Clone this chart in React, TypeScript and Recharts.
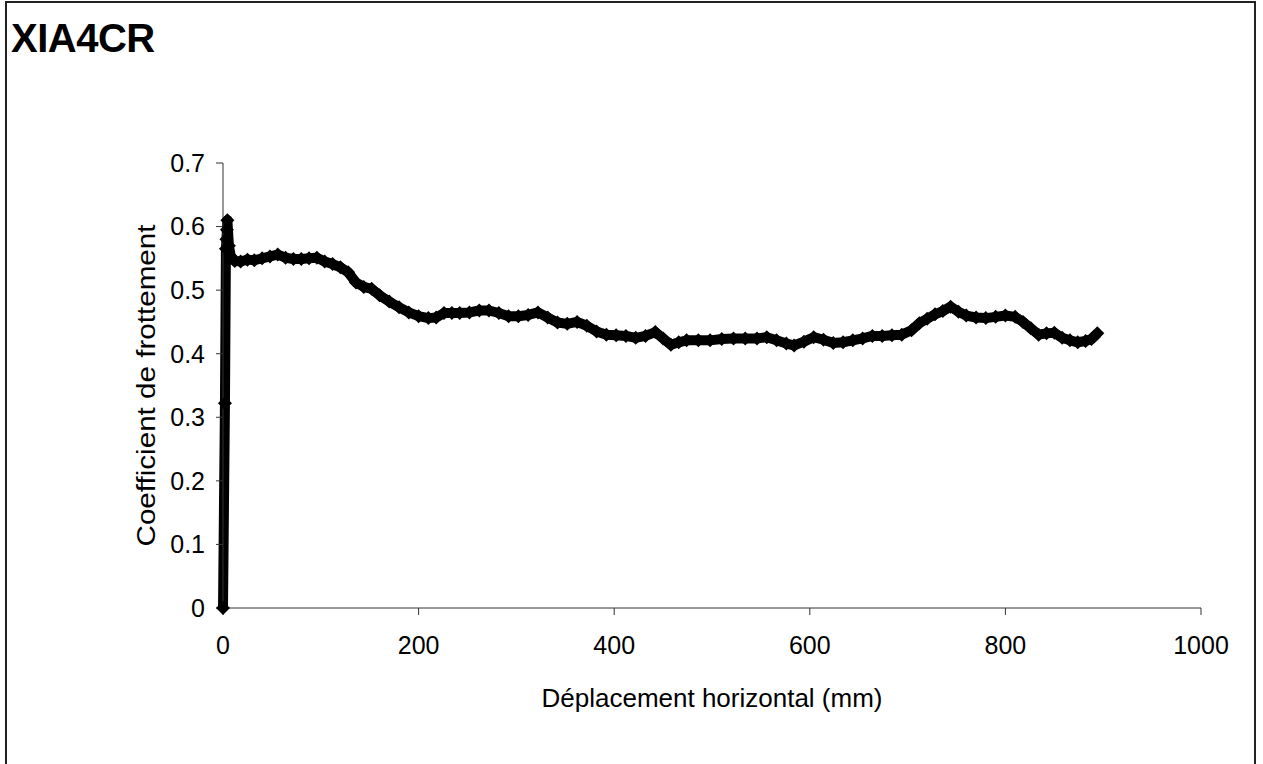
import { LineChart, Line, XAxis, YAxis } from "recharts"

// déplacement horizontal (mm)
const DISP = [
  0, 2, 3, 3.5, 4, 4.5, 6, 8, 12, 18, 25, 32, 40, 48, 56, 64, 72, 80, 88, 96,
  104, 112, 120, 128, 136, 144, 152, 160, 170, 180, 190, 200, 210, 218, 226, 234, 242, 252, 262, 272,
  282, 292, 302, 312, 322, 332, 342, 352, 362, 372, 382, 392, 402, 412, 422, 432, 442, 450, 458, 466,
  474, 486, 498, 510, 522, 534, 546, 556, 566, 576, 584, 594, 604, 614, 624, 634, 644, 654, 664, 674,
  684, 694, 704, 712, 720, 728, 736, 744, 752, 760, 770, 780, 790, 800, 810, 818, 826, 834, 842, 850,
  858, 866, 874, 882, 888, 894,
]

// coefficient de frottement
const COEF = [
  0, 0.322, 0.565, 0.58, 0.595, 0.61, 0.57, 0.553, 0.546, 0.545, 0.548, 0.547, 0.55, 0.553, 0.556, 0.551, 0.549, 0.549, 0.55, 0.551,
  0.545, 0.541, 0.536, 0.528, 0.512, 0.505, 0.502, 0.492, 0.482, 0.473, 0.465, 0.459, 0.456, 0.457, 0.464, 0.464, 0.464, 0.465, 0.468, 0.468,
  0.464, 0.459, 0.459, 0.461, 0.465, 0.457, 0.449, 0.447, 0.45, 0.444, 0.435, 0.43, 0.429, 0.428, 0.425, 0.428, 0.434, 0.424, 0.414, 0.418,
  0.421, 0.421, 0.421, 0.423, 0.424, 0.424, 0.424, 0.426, 0.421, 0.416, 0.413, 0.419, 0.426, 0.422, 0.417, 0.418, 0.421, 0.424, 0.428, 0.428,
  0.429, 0.43, 0.437, 0.448, 0.455, 0.462, 0.467, 0.474, 0.466, 0.46, 0.457, 0.456, 0.458, 0.46, 0.458, 0.45, 0.44, 0.43, 0.432, 0.433,
  0.425, 0.421, 0.418, 0.42, 0.423, 0.432,
]

const X_TICKS = [0, 200, 400, 600, 800, 1000]
const Y_TICKS = [0, 0.1, 0.2, 0.3, 0.4, 0.5, 0.6, 0.7]

const data = DISP.map((d, i) => ({ d, c: COEF[i] }))

const FONT = '"Liberation Sans", Arial, sans-serif'

const Diamond = (props: any) => {
  const { cx, cy, index } = props
  const r = 7
  return (
    <path
      key={`dot-${index}`}
      d={`M${cx},${cy - r} L${cx + r},${cy} L${cx},${cy + r} L${cx - r},${cy} Z`}
      fill="#000"
    />
  )
}

export default function App() {
  return (
    <div style={{ position: "absolute", left: 0, top: 0, width: 1263, height: 764, overflow: "hidden", background: "#fff" }}>
      {/* chart frame */}
      <div
        style={{
          position: "absolute",
          left: 5,
          top: 1,
          width: 1247,
          height: 800,
          border: "2px solid #222",
        }}
      />
      <div
        style={{
          position: "absolute",
          left: 11,
          top: 18,
          fontFamily: FONT,
          fontWeight: "bold",
          fontSize: 40,
          lineHeight: "40px",
          letterSpacing: -0.5,
          color: "#000",
        }}
      >
        XIA4CR
      </div>
      <div style={{ position: "absolute", left: 0, top: 0 }}>
        <LineChart width={1263} height={764} data={data} margin={{ top: 163, right: 62, left: 143, bottom: 76 }}>
          <XAxis
            type="number"
            dataKey="d"
            domain={[0, 1000]}
            ticks={X_TICKS}
            height={80}
            tickSize={7}
            tickMargin={21}
            stroke="#333"
            tick={{ fill: "#000", fontSize: 25, fontFamily: FONT }}
            label={{
              content: ({ viewBox }: any) => (
                <text
                  x={viewBox.x + viewBox.width / 2}
                  y={viewBox.y + viewBox.height + 19}
                  textAnchor="middle"
                  fontSize={26}
                  fontFamily={FONT}
                  fill="#000"
                >
                  Déplacement horizontal (mm)
                </text>
              ),
            }}
          />
          <YAxis
            type="number"
            domain={[0, 0.7]}
            ticks={Y_TICKS}
            width={80}
            tickSize={7}
            tickMargin={11}
            stroke="#333"
            tickFormatter={(v: number) => String(Number(v.toFixed(1)))}
            tick={{ fill: "#000", fontSize: 25, fontFamily: FONT }}
            label={{
              content: ({ viewBox }: any) => {
                const cx = viewBox.x + 3
                const cy = viewBox.y + viewBox.height / 2
                return (
                  <text
                    x={cx}
                    y={cy}
                    transform={`rotate(-90 ${cx} ${cy})`}
                    textAnchor="middle"
                    dominantBaseline="central"
                    fontSize={25}
                    fontFamily={FONT}
                    fill="#000"
                    textLength={322}
                    lengthAdjust="spacingAndGlyphs"
                  >
                    Coefficient de frottement
                  </text>
                )
              },
            }}
          />
          <Line
            type="linear"
            dataKey="c"
            stroke="#000"
            strokeWidth={10}
            strokeLinejoin="round"
            dot={Diamond}
            activeDot={false}
            isAnimationActive={false}
          />
        </LineChart>
      </div>
    </div>
  )
}
